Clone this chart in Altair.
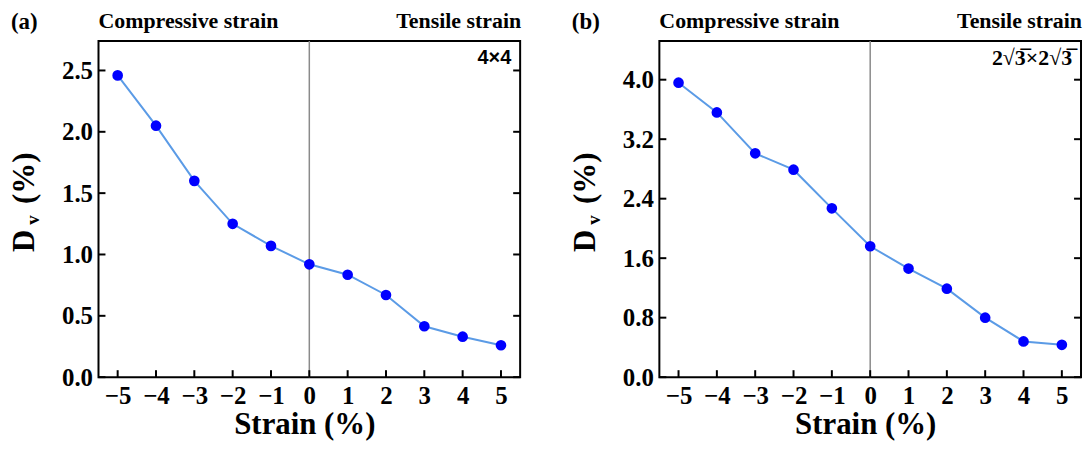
import altair as alt
import pandas as pd

# ---- data ----
strain = [-5, -4, -3, -2, -1, 0, 1, 2, 3, 4, 5]
dv_4x4 = [2.46, 2.05, 1.60, 1.25, 1.07, 0.92, 0.835, 0.67, 0.415, 0.33, 0.26]
dv_2r3 = [3.96, 3.56, 3.01, 2.79, 2.27, 1.76, 1.46, 1.19, 0.80, 0.48, 0.435]
yticks_a = [0.0, 0.5, 1.0, 1.5, 2.0, 2.5]
yticks_b = [0.0, 0.8, 1.6, 2.4, 3.2, 4.0]
xticks = [-5, -4, -3, -2, -1, 0, 1, 2, 3, 4, 5]
ymax_a = 2.74
ymax_b = 4.52
tags = ["(a)", "(b)"]
insets = ["4×4", "2√3̅×2√3̅"]
left_label = "Compressive strain"
right_label = "Tensile strain"
x_title = "Strain (%)"

W, H = 424, 338
SERIF = "Liberation Serif"
SANS = "Liberation Sans"
TICK = 7


def panel(vals, yticks, ymax, tag, inset, inset_font, inset_size):
    df = pd.DataFrame({"strain": strain, "dv": vals})
    xs = alt.Scale(domain=[-5.5, 5.5], nice=False, zero=False)
    ys = alt.Scale(domain=[0, ymax], nice=False)
    xaxis = alt.Axis(values=xticks, format="d", title=x_title, ticks=False,
                     domain=False, grid=False, labelFont=SERIF, labelFontSize=25,
                     labelFontWeight="bold", labelColor="black", labelPadding=7,
                     titleFont=SERIF, titleFontSize=31, titleFontWeight="bold",
                     titleColor="black", titlePadding=1, titleX=W / 2 - 5)
    yaxis = alt.Axis(values=yticks, format=".1f", title=None, ticks=False,
                     domain=False, grid=False, labelFont=SERIF, labelFontSize=25,
                     labelFontWeight="bold", labelColor="black", labelPadding=6)
    X = alt.X("strain:Q", scale=xs, axis=xaxis)
    Y = alt.Y("dv:Q", scale=ys, axis=yaxis)

    zero = alt.Chart(pd.DataFrame({"strain": [0]})).mark_rule(
        color="#8a8a8a", strokeWidth=1.5).encode(x=X, y=alt.value(0), y2=alt.value(H))
    line = alt.Chart(df).mark_line(color="#5b9be6", strokeWidth=2).encode(x=X, y=Y)
    pts = alt.Chart(df).mark_circle(color="#0000ff", size=115, opacity=1).encode(x=X, y=Y)

    ydf = pd.DataFrame({"dv": yticks})
    xdf = pd.DataFrame({"strain": xticks})
    lt = alt.Chart(ydf).mark_rule(color="black", strokeWidth=2).encode(
        y=Y, x=alt.value(0), x2=alt.value(TICK))
    rt = alt.Chart(ydf).mark_rule(color="black", strokeWidth=2).encode(
        y=Y, x=alt.value(W - TICK), x2=alt.value(W))
    bt = alt.Chart(xdf).mark_rule(color="black", strokeWidth=2).encode(
        x=X, y=alt.value(H - TICK), y2=alt.value(H))

    def txt(s, x, y, size, align="center", font=SERIF, angle=0, baseline="middle"):
        kw = dict(text=s, font=font, fontSize=size, fontWeight="bold", color="black",
                  align=align, baseline=baseline)
        if angle:
            kw["angle"] = angle
        return alt.Chart(pd.DataFrame({"k": [0]})).mark_text(**kw).encode(
            x=alt.value(x), y=alt.value(y))

    t_tag = txt(tag, -88, -19, 23, align="left")
    t_left = txt(left_label, 0, -20, 22, align="left")
    t_right = txt(right_label, W + 1, -20, 22, align="right")
    t_inset = txt(inset, W - 9, 17, inset_size, align="right", font=inset_font)
    t_D = txt("D", -74, 201, 31, angle=270)
    t_v = txt("v", -66, 180, 19, angle=270)
    t_pc = txt("(%)", -74, 138, 31, angle=270)

    return alt.layer(zero, line, pts, lt, rt, bt, t_tag, t_left, t_right, t_inset,
                     t_D, t_v, t_pc).properties(width=W, height=H)


pa = panel(dv_4x4, yticks_a, ymax_a, tags[0], insets[0], SANS, 20)
pb = panel(dv_2r3, yticks_b, ymax_b, tags[1], insets[1], SERIF, 22)

chart = alt.hconcat(pa, pb, spacing=47).properties(padding=0).configure_view(
    stroke="black", strokeWidth=2)

chart.save("out.html", embed_options={"renderer": "svg", "actions": False})
